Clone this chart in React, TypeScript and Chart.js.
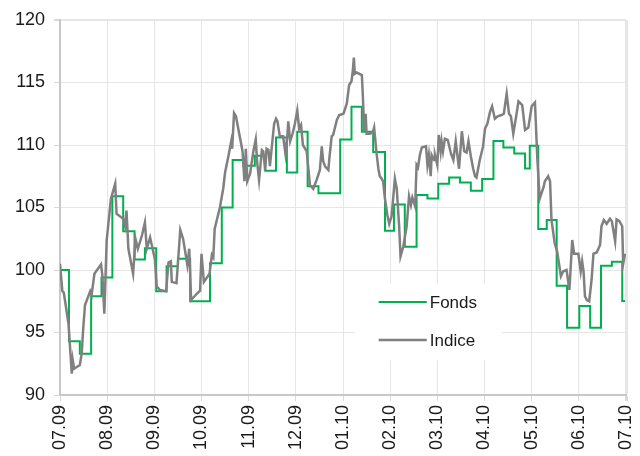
import React, { useEffect, useRef } from "react";
import { Chart, registerables } from "chart.js";

Chart.register(...registerables);

const monthLabels = ["07.09", "08.09", "09.09", "10.09", "11.09", "12.09", "01.10", "02.10", "03.10", "04.10", "05.10", "06.10", "07.10"];
const yTicks = [90, 95, 100, 105, 110, 115, 120];

// Fonds (weekly NAV, step line): time in months since 07.09, value
const fondsT = [0, 0.19, 0.42, 0.66, 0.88, 1.11, 1.34, 1.58, 1.80, 2.04, 2.26, 2.50, 2.76, 3.18, 3.43, 3.66, 3.89, 4.13, 4.35, 4.58, 4.81, 5.03, 5.25, 5.48, 5.94, 6.18, 6.40, 6.64, 6.89, 7.08, 7.31, 7.56, 7.79, 8.02, 8.25, 8.48, 8.71, 8.95, 9.19, 9.40, 9.63, 9.86, 9.96, 10.14, 10.32, 10.53, 10.75, 11.01, 11.24, 11.47, 11.70, 11.92, 11.98];
const fondsV = [100, 94.3, 93.3, 97.9, 99.4, 105.9, 103.1, 100.85, 101.75, 98.3, 100.3, 100.9, 97.5, 100.55, 105.0, 108.8, 108.35, 109.15, 107.95, 110.6, 107.8, 111.07, 106.7, 106.15, 110.45, 113.07, 111.07, 109.45, 103.15, 105.25, 101.87, 106.0, 105.73, 106.9, 107.41, 107.01, 106.35, 107.28, 110.32, 109.81, 109.33, 108.13, 109.95, 103.28, 104.0, 98.75, 95.39, 97.12, 95.39, 100.35, 100.67, 97.52, 97.52];

// Indice: time in months since 07.09, value
const indiceT = [0.00, 0.05, 0.08, 0.18, 0.25, 0.27, 0.30, 0.42, 0.46, 0.49, 0.53, 0.64, 0.67, 0.73, 0.87, 0.90, 0.94, 0.99, 1.08, 1.17, 1.20, 1.27, 1.34, 1.38, 1.41, 1.45, 1.55, 1.60, 1.65, 1.74, 1.80, 1.84, 1.91, 2.01, 2.05, 2.12, 2.25, 2.30, 2.35, 2.37, 2.47, 2.55, 2.61, 2.70, 2.74, 2.78, 2.90, 2.97, 3.00, 3.05, 3.17, 3.22, 3.25, 3.28, 3.39, 3.46, 3.50, 3.57, 3.63, 3.65, 3.69, 3.73, 3.80, 3.87, 3.91, 3.94, 3.97, 4.03, 4.10, 4.15, 4.18, 4.22, 4.28, 4.31, 4.35, 4.38, 4.42, 4.45, 4.54, 4.58, 4.61, 4.66, 4.73, 4.78, 4.82, 4.84, 4.88, 4.93, 4.98, 5.03, 5.07, 5.11, 5.15, 5.23, 5.30, 5.37, 5.44, 5.51, 5.55, 5.58, 5.62, 5.69, 5.71, 5.76, 5.79, 5.87, 5.92, 6.01, 6.08, 6.13, 6.18, 6.21, 6.23, 6.25, 6.29, 6.40, 6.42, 6.45, 6.48, 6.50, 6.57, 6.63, 6.66, 6.71, 6.75, 6.78, 6.82, 6.85, 6.89, 6.94, 6.98, 7.03, 7.10, 7.14, 7.19, 7.22, 7.28, 7.35, 7.40, 7.44, 7.47, 7.53, 7.56, 7.59, 7.63, 7.67, 7.76, 7.79, 7.82, 7.86, 7.88, 7.93, 7.95, 8.00, 8.03, 8.07, 8.09, 8.12, 8.16, 8.22, 8.29, 8.34, 8.39, 8.46, 8.52, 8.57, 8.62, 8.66, 8.71, 8.76, 8.80, 8.83, 8.90, 8.97, 9.01, 9.06, 9.12, 9.16, 9.22, 9.28, 9.36, 9.41, 9.47, 9.52, 9.56, 9.61, 9.68, 9.72, 9.80, 9.86, 9.93, 10.00, 10.07, 10.12, 10.17, 10.25, 10.28, 10.35, 10.39, 10.42, 10.49, 10.54, 10.58, 10.62, 10.67, 10.74, 10.80, 10.86, 10.90, 10.99, 11.04, 11.07, 11.10, 11.13, 11.17, 11.22, 11.27, 11.31, 11.38, 11.45, 11.48, 11.53, 11.59, 11.66, 11.70, 11.77, 11.80, 11.86, 11.92, 11.94, 11.98];
const indiceV = [100.5, 98.3, 98.2, 95.7, 91.7, 92.8, 92.1, 92.4, 93.3, 95.2, 97.2, 98.3, 98.0, 99.7, 100.45, 99.5, 96.5, 102.4, 105.7, 106.9, 104.5, 104.3, 104.1, 103.5, 104.75, 101.7, 99.7, 102.5, 101.7, 102.8, 103.8, 101.7, 102.6, 100.9, 98.7, 98.4, 98.3, 100.6, 100.7, 99.05, 98.95, 103.2, 102.5, 100.4, 101.7, 97.6, 98.1, 98.35, 101.3, 99.05, 99.7, 101.2, 101.0, 103.3, 105.0, 106.5, 107.8, 109.1, 110.3, 109.7, 112.55, 112.3, 110.9, 109.5, 107.1, 109.7, 107.1, 107.7, 109.5, 110.45, 108.6, 107.2, 109.6, 109.5, 108.0, 109.7, 109.6, 108.3, 111.7, 112.1, 111.9, 110.7, 110.7, 109.3, 110.7, 111.9, 110.3, 110.9, 111.7, 112.75, 111.3, 111.6, 110.0, 109.5, 106.8, 106.5, 107.2, 108.0, 109.9, 108.7, 108.3, 108.0, 108.9, 110.7, 110.8, 112.0, 112.4, 112.5, 113.3, 114.8, 115.1, 116.0, 117.0, 115.7, 115.8, 115.6, 114.0, 111.1, 112.5, 110.9, 110.9, 111.0, 111.4, 109.4, 108.1, 107.5, 107.3, 107.1, 105.7, 104.4, 103.7, 104.3, 107.3, 106.5, 103.5, 101.1, 101.9, 103.5, 105.9, 105.2, 105.8, 105.1, 108.4, 108.2, 109.2, 109.8, 109.9, 108.4, 109.2, 107.5, 109.2, 108.8, 109.2, 108.4, 110.8, 109.5, 110.3, 109.5, 110.5, 110.4, 109.3, 108.8, 110.3, 108.1, 111.1, 109.5, 109.4, 110.3, 109.1, 108.1, 107.5, 107.4, 108.8, 109.9, 111.3, 111.7, 112.7, 113.1, 112.1, 112.3, 112.4, 112.5, 114.1, 112.5, 112.3, 110.9, 112.5, 113.5, 113.2, 111.2, 111.4, 113.1, 113.4, 108.9, 105.7, 106.6, 107.1, 107.5, 107.1, 104.0, 102.1, 101.5, 100.5, 99.5, 99.9, 100.0, 98.4, 102.4, 101.3, 101.3, 99.9, 100.7, 99.9, 97.9, 97.6, 97.5, 99.2, 101.3, 101.4, 102.0, 103.5, 104.0, 103.7, 104.1, 103.9, 102.3, 104.05, 103.9, 103.5, 100.5, 101.3];

const seriesNames = ["Fonds", "Indice"];
const GREEN = "#00b050";
const GRAY = "#808080";
const FONT = "'Liberation Sans', Arial, sans-serif";

const legendPlugin = {
  id: "insideLegend",
  afterDatasetsDraw(chart: any) {
    const { ctx, chartArea: ca } = chart;
    const W = ca.right - ca.left;
    const H = ca.bottom - ca.top;
    const bx = ca.left + 0.521 * W;
    const bx2 = ca.left + 0.781 * W;
    const by = ca.top + 0.703 * H;
    const by2 = ca.top + 0.907 * H;
    ctx.save();
    ctx.fillStyle = "#ffffff";
    ctx.fillRect(bx, by, bx2 - bx, by2 - by);
    const items = [
      { label: seriesNames[0], color: GREEN, width: 2, y: ca.top + 0.752 * H },
      { label: seriesNames[1], color: GRAY, width: 2.5, y: ca.top + 0.853 * H },
    ];
    const lx = ca.left + 0.563 * W;
    const lx2 = ca.left + 0.648 * W;
    for (const it of items) {
      ctx.strokeStyle = it.color;
      ctx.lineWidth = it.width;
      ctx.beginPath();
      ctx.moveTo(lx, it.y);
      ctx.lineTo(lx2, it.y);
      ctx.stroke();
      ctx.fillStyle = "#1a1a1a";
      ctx.font = `17px ${FONT}`;
      ctx.textBaseline = "middle";
      ctx.textAlign = "left";
      ctx.fillText(it.label, lx2 + 3, it.y + 1);
    }
    ctx.restore();
  },
};

export default function App() {
  const ref = useRef<HTMLCanvasElement>(null);
  useEffect(() => {
    document.body.style.margin = "0";
    const canvas = ref.current;
    if (!canvas) return;
    const chart = new Chart(canvas, {
      type: "line",
      data: {
        datasets: [
          {
            label: seriesNames[0],
            data: fondsT.map((t, i) => ({ x: t, y: fondsV[i] })),
            borderColor: GREEN,
            backgroundColor: GREEN,
            borderWidth: 2,
            stepped: true,
            pointRadius: 0,
            order: 1,
          },
          {
            label: seriesNames[1],
            data: indiceT.map((t, i) => ({ x: t, y: indiceV[i] })),
            borderColor: GRAY,
            backgroundColor: GRAY,
            borderWidth: 2.5,
            tension: 0,
            pointRadius: 0,
            order: 0,
          },
        ],
      },
      options: {
        animation: false,
        responsive: false,
        devicePixelRatio: 1,
        layout: { padding: { top: 20, right: 14, left: 0, bottom: 0 } },
        plugins: { legend: { display: false }, tooltip: { enabled: false } },
        scales: {
          x: {
            type: "linear",
            min: 0,
            max: monthLabels.length - 1,
            afterFit: (s: any) => { s.height = 61; s.paddingLeft = 0; s.paddingRight = 0; },
            afterBuildTicks: (s: any) => { s.ticks = monthLabels.map((_, i) => ({ value: i })); },
            ticks: {
              autoSkip: false,
              maxRotation: 90,
              minRotation: 90,
              padding: 4,
              color: "#1a1a1a",
              font: { size: 18, family: FONT },
              callback: (v: any) => monthLabels[Math.round(v)] ?? "",
            },
            grid: {
              color: "#e6e6e6",
              tickColor: "#d9d9d9",
              tickLength: 6,
              lineWidth: (c: any) => (c.tick && c.tick.value === monthLabels.length - 1 ? 3 : 1),
            },
            border: { color: "#c8c8c8", width: 2 },
          },
          y: {
            type: "linear",
            min: yTicks[0],
            max: yTicks[yTicks.length - 1],
            afterFit: (s: any) => { s.width = 60; s.paddingTop = 0; s.paddingBottom = 0; },
            afterBuildTicks: (s: any) => { s.ticks = yTicks.map((v) => ({ value: v })); },
            ticks: {
              padding: 9,
              color: "#1a1a1a",
              font: { size: 18, family: FONT },
              callback: (v: any) => String(v),
            },
            grid: {
              color: "#e6e6e6",
              tickColor: "#d9d9d9",
              tickLength: 6,
              lineWidth: (c: any) => (c.tick && c.tick.value === yTicks[yTicks.length - 1] ? 2 : 1),
            },
            border: { color: "#c8c8c8", width: 2 },
          },
        },
      },
      plugins: [legendPlugin],
    });
    return () => chart.destroy();
  }, []);
  return (
    <div style={{ width: 640, height: 456 }}>
      <canvas ref={ref} width={640} height={456} />
    </div>
  );
}
